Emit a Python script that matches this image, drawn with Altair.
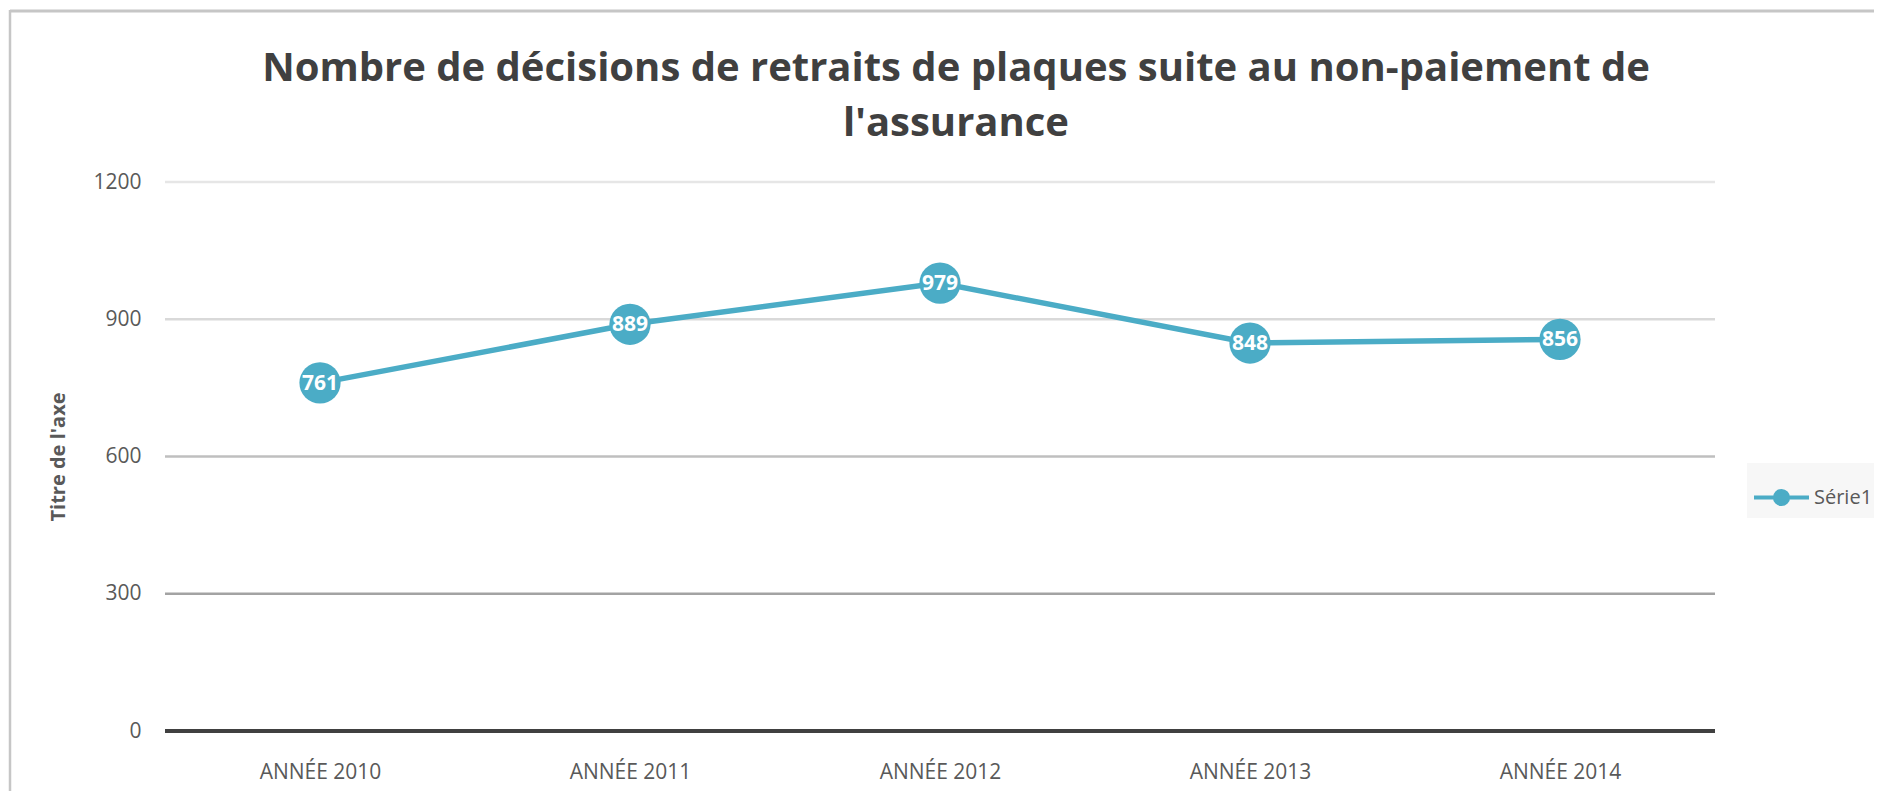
import altair as alt
import pandas as pd

# ---- data ----
annees = ["ANNÉE 2010", "ANNÉE 2011", "ANNÉE 2012", "ANNÉE 2013", "ANNÉE 2014"]
valeurs = [761, 889, 979, 848, 856]
serie = "Série1"

grid_values = [300, 600, 900, 1200]
grid_colors = ["#a3a3a3", "#bfbfbf", "#d9d9d9", "#e6e6e6"]
y_ticks = [0, 300, 600, 900, 1200]

title_lines = ["Nombre de décisions de retraits de plaques suite au non-paiement de",
               "l'assurance"]
y_title = "Titre de l'axe"

FONT = "Open Sans"
TEAL = "#4bacc6"
TXT = "#595959"

df = pd.DataFrame({"annee": annees, "valeur": valeurs, "serie": [serie] * len(annees)})
grid_df = pd.DataFrame({"valeur": grid_values})
zero_df = pd.DataFrame({"valeur": [0]})

y_scale = alt.Scale(domain=[0, 1200], nice=False, zero=True)
x_enc = alt.X(
    "annee:N", sort=annees, title=None,
    scale=alt.Scale(type="point", padding=0.5),
    axis=alt.Axis(labelAngle=0, ticks=False, domain=False, grid=False,
                  labelFont=FONT, labelFontSize=21, labelColor=TXT, labelPadding=30),
)
y_axis = alt.Axis(values=y_ticks, format="d", grid=False, ticks=False, domain=False,
                  labelFont=FONT, labelFontSize=21, labelColor=TXT, labelPadding=24,
                  title=y_title, titleFont=FONT, titleFontSize=20, titleFontWeight="bold",
                  titleColor=TXT, titleAngle=270, titleX=-107, titleY=274.5,
                  titleAlign="center", titleBaseline="middle")

# frame of the chart area (decoration)
frame_top = alt.Chart(alt.Data(values=[{}])).mark_rule(color="#c6c6c6", strokeWidth=3).encode(
    x=alt.value(-155), x2=alt.value(1730), y=alt.value(-171))
frame_left = alt.Chart(alt.Data(values=[{}])).mark_rule(color="#c6c6c6", strokeWidth=2.5).encode(
    x=alt.value(-155), y=alt.value(-172), y2=alt.value(640))

grid = alt.Chart(grid_df).mark_rule(strokeWidth=2.5).encode(
    y=alt.Y("valeur:Q", scale=y_scale, axis=y_axis),
    stroke=alt.Stroke("valeur:O", scale=alt.Scale(domain=grid_values, range=grid_colors), legend=None),
)
zero = alt.Chart(zero_df).mark_rule(strokeWidth=4, color="#404040").encode(
    y=alt.Y("valeur:Q", scale=y_scale),
)

base = alt.Chart(df)
line = base.mark_line(strokeWidth=5.5).encode(
    x=x_enc,
    y=alt.Y("valeur:Q", scale=y_scale),
    color=alt.Color("serie:N", scale=alt.Scale(range=[TEAL]),
                    legend=alt.Legend(title=None)),
)
points = base.mark_circle(size=1700, opacity=1, color=TEAL).encode(
    x=x_enc, y=alt.Y("valeur:Q", scale=y_scale))
labels = base.mark_text(color="white", font=FONT, fontSize=21, fontWeight="bold",
                        align="center", baseline="middle", dy=1).encode(
    x=x_enc, y=alt.Y("valeur:Q", scale=y_scale), text="valeur:Q")

chart = alt.layer(frame_top, frame_left, grid, zero, line, points, labels).properties(
    width=1550, height=549,
    autosize=alt.AutoSizeParams(type="none"),
    padding={"left": 157, "top": 174, "right": 159, "bottom": 60},
    title=alt.TitleParams(text=title_lines, font=FONT, fontSize=40, fontWeight="bold",
                          color="#404040", anchor="middle", frame="group",
                          offset=41, lineHeight=55, dx=16, dy=176),
).configure_view(stroke=None).configure_legend(
    orient="none", legendX=1582, legendY=281,
    padding=5, fillColor="#f7f7f7",
    symbolType="M-1,0L1,0M0.24,0A0.24,0.24,0,1,1,-0.24,0A0.24,0.24,0,1,1,0.24,0Z",
    symbolSize=3025, symbolStrokeWidth=4, symbolStrokeColor=TEAL, symbolFillColor=TEAL,
    labelFont=FONT, labelFontSize=20, labelColor=TXT, labelOffset=3,
)

chart.save("out.html", embed_options={"renderer": "svg", "actions": False})
